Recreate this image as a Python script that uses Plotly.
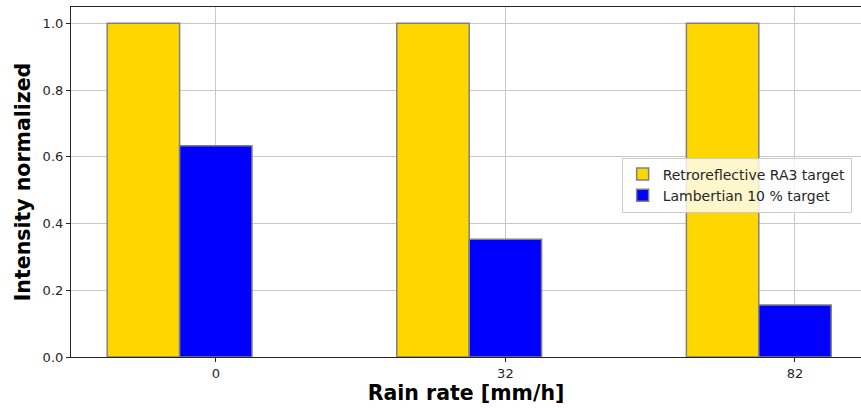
import plotly.graph_objects as go

# Rain rates (mm/h) and normalized intensity per target type
rain_rates = ["0", "32", "82"]
retro_ra3 = [1.0, 1.0, 1.0]
lambertian_10 = [0.633, 0.353, 0.156]

bar_w = 0.25
idx = list(range(len(rain_rates)))

fig = go.Figure()
fig.add_trace(go.Bar(
    x=[i - bar_w for i in idx], y=retro_ra3, width=bar_w,
    name="Retroreflective RA3 target",
    marker=dict(color="#FFD700", line=dict(color="#808080", width=1.5)),
))
fig.add_trace(go.Bar(
    x=idx, y=lambertian_10, width=bar_w,
    name="Lambertian 10 % target",
    marker=dict(color="#0000FF", line=dict(color="#808080", width=1.5)),
))

fig.update_layout(
    width=861, height=408,
    margin=dict(l=71, r=0, t=7, b=51),
    plot_bgcolor="white", paper_bgcolor="white",
    barmode="overlay",
    font=dict(family="DejaVu Sans", size=13, color="#262626"),
    legend=dict(
        x=0.697, y=0.57, xanchor="left", yanchor="top",
        bgcolor="rgba(255,255,255,0.8)", bordercolor="#cccccc", borderwidth=1,
        font=dict(size=14, color="#262626"),
        tracegroupgap=0,
    ),
    showlegend=True,
)
fig.update_xaxes(
    range=[-0.5, 2.228],
    tickvals=idx, ticktext=rain_rates,
    showgrid=True, gridcolor="#c8c8c8", gridwidth=1,
    showline=True, linecolor="#262626", linewidth=1.2, mirror=True,
    ticks="outside", ticklen=4, tickcolor="#262626",
    zeroline=False,
    title=dict(text="<b>Rain rate [mm/h]</b>", font=dict(size=20.5, color="#000000"), standoff=4),
)
fig.update_yaxes(
    range=[0, 1.049],
    tickvals=[0, 0.2, 0.4, 0.6, 0.8, 1.0],
    ticktext=["0.0", "0.2", "0.4", "0.6", "0.8", "1.0"],
    showgrid=True, gridcolor="#c8c8c8", gridwidth=1,
    showline=True, linecolor="#262626", linewidth=1.2,
    ticks="outside", ticklen=4, tickcolor="#262626",
    zeroline=False,
    title=dict(text="<b>Intensity normalized</b>", font=dict(size=20.5, color="#000000"), standoff=6),
)

fig.write_html("out.html")
